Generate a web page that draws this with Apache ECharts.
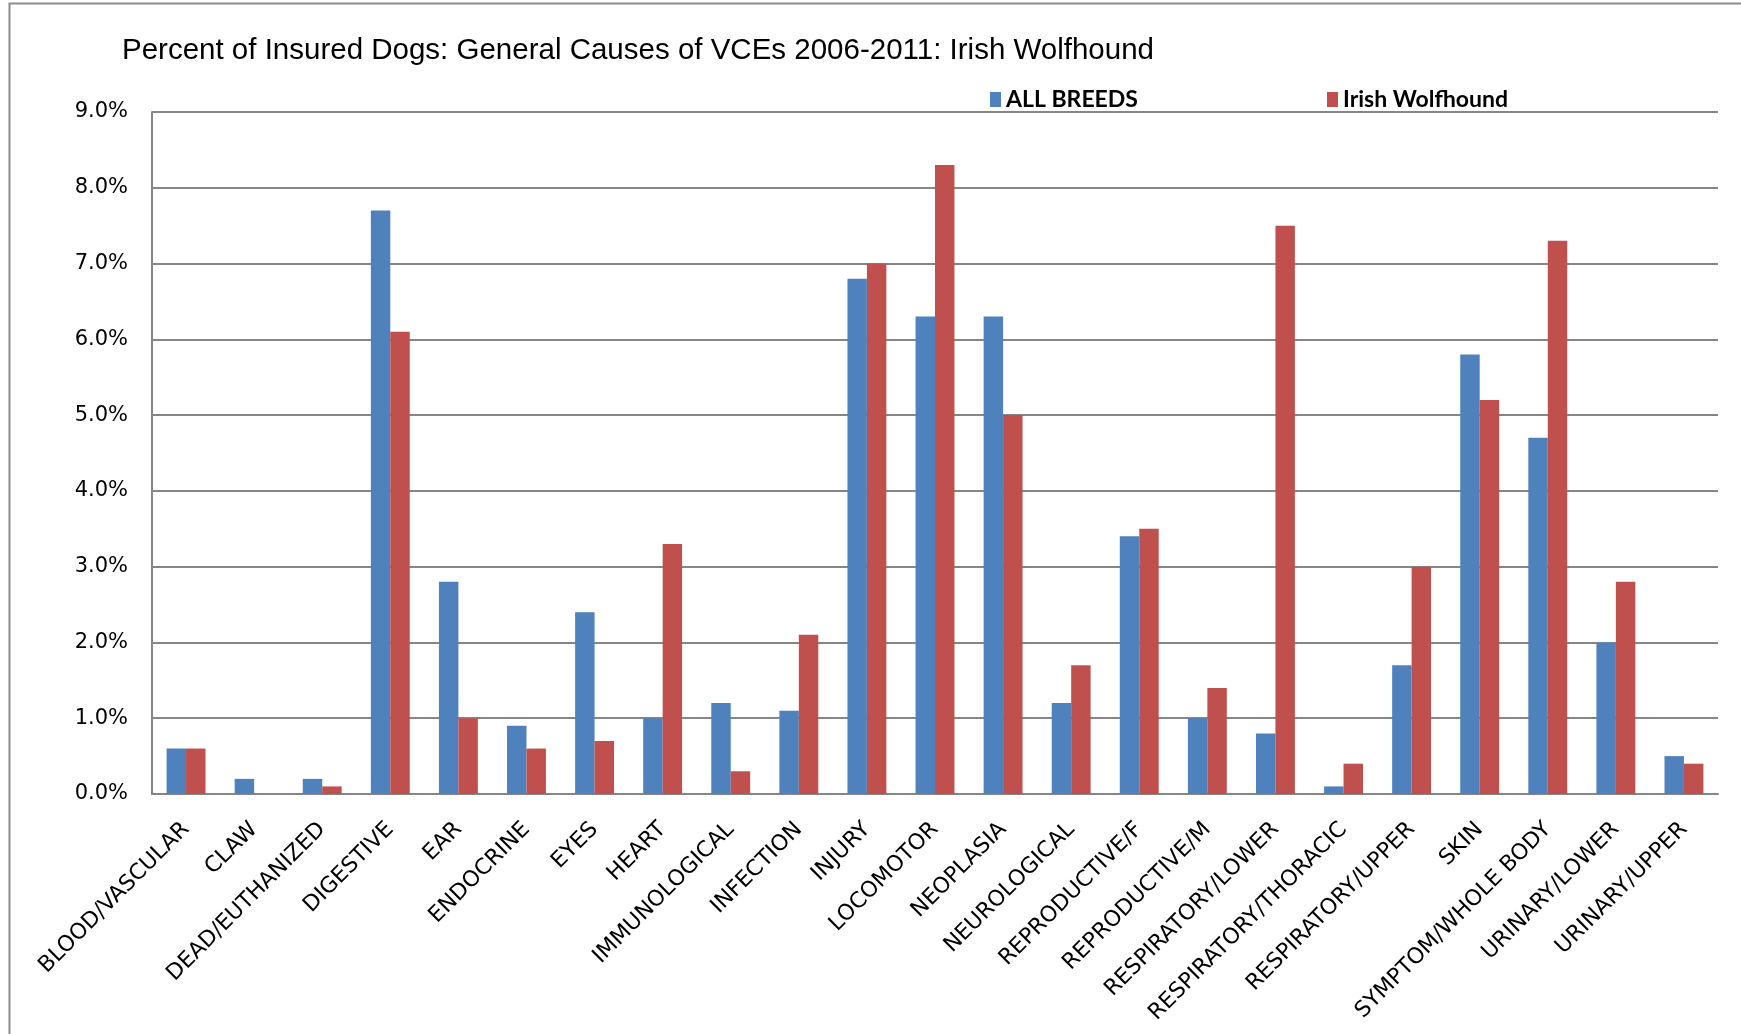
<!DOCTYPE html>
<html>
<head>
<meta charset="utf-8">
<script src="https://cdn.jsdelivr.net/npm/echarts@6/dist/echarts.min.js"></script>
<style>
html,body{margin:0;padding:0;background:#fff;}
#chart{width:1741px;height:1034px;}
</style>
</head>
<body>
<div id="chart"></div>
<script>
const categories = ["BLOOD/VASCULAR","CLAW","DEAD/EUTHANIZED","DIGESTIVE","EAR","ENDOCRINE","EYES","HEART","IMMUNOLOGICAL","INFECTION","INJURY","LOCOMOTOR","NEOPLASIA","NEUROLOGICAL","REPRODUCTIVE/F","REPRODUCTIVE/M","RESPIRATORY/LOWER","RESPIRATORY/THORACIC","RESPIRATORY/UPPER","SKIN","SYMPTOM/WHOLE BODY","URINARY/LOWER","URINARY/UPPER"];
const allBreeds = [0.6,0.2,0.2,7.7,2.8,0.9,2.4,1.0,1.2,1.1,6.8,6.3,6.3,1.2,3.4,1.0,0.8,0.1,1.7,5.8,4.7,2.0,0.5];
const irishWolfhound = [0.6,0,0.1,6.1,1.0,0.6,0.7,3.3,0.3,2.1,7.0,8.3,5.0,1.7,3.5,1.4,7.5,0.4,3.0,5.2,7.3,2.8,0.4];
const seriesNames = ["ALL BREEDS","Irish Wolfhound"];
const titleText = "Percent of Insured Dogs: General Causes of VCEs 2006-2011: Irish Wolfhound";

const chart = echarts.init(document.getElementById('chart'), null, {renderer:'canvas'});
const gridColor = '#868686';
chart.setOption({
  animation:false,
  backgroundColor:'#fff',
  title:{
    text:titleText, left:117, top:31,
    textStyle:{fontFamily:'Liberation Sans', fontWeight:'normal', fontSize:29.5, color:'#000'}
  },
  legend:[
    {data:[seriesNames[0]], left:985, top:83, itemWidth:11, itemHeight:15, icon:'rect',
     textStyle:{fontFamily:'Lato', fontWeight:'bold', fontSize:23, color:'#000'}},
    {data:[seriesNames[1]], left:1322, top:83, itemWidth:11, itemHeight:15, icon:'rect',
     textStyle:{fontFamily:'Lato', fontWeight:'bold', fontSize:23, color:'#000'}}
  ],
  graphic:[{type:'rect', left:7, top:1, shape:{width:1800, height:1200}, style:{fill:'none', stroke:'#8c8c8c', lineWidth:2}, silent:true}],
  grid:{left:152, right:23, top:112, bottom:240, containLabel:false},
  xAxis:{
    type:'category', data:categories,
    axisLine:{lineStyle:{color:gridColor, width:2}},
    axisTick:{show:false},
    axisLabel:{rotate:45, interval:0, margin:32, fontFamily:'DejaVu Sans', fontSize:22, color:'#000'}
  },
  yAxis:{
    type:'value', min:0, max:9, interval:1,
    axisLine:{show:true, lineStyle:{color:gridColor, width:2}},
    axisTick:{show:false},
    splitLine:{lineStyle:{color:gridColor, width:2}},
    axisLabel:{formatter:v=>v.toFixed(1)+'%', margin:24, fontFamily:'DejaVu Sans', fontSize:21, color:'#000'}
  },
  series:[
    {name:seriesNames[0], type:'bar', data:allBreeds, barGap:'0%', barCategoryGap:'42.86%', itemStyle:{color:'#4F81BD'}},
    {name:seriesNames[1], type:'bar', data:irishWolfhound, barGap:'0%', barCategoryGap:'42.86%', itemStyle:{color:'#C0504D'}}
  ]
});
</script>
</body>
</html>
